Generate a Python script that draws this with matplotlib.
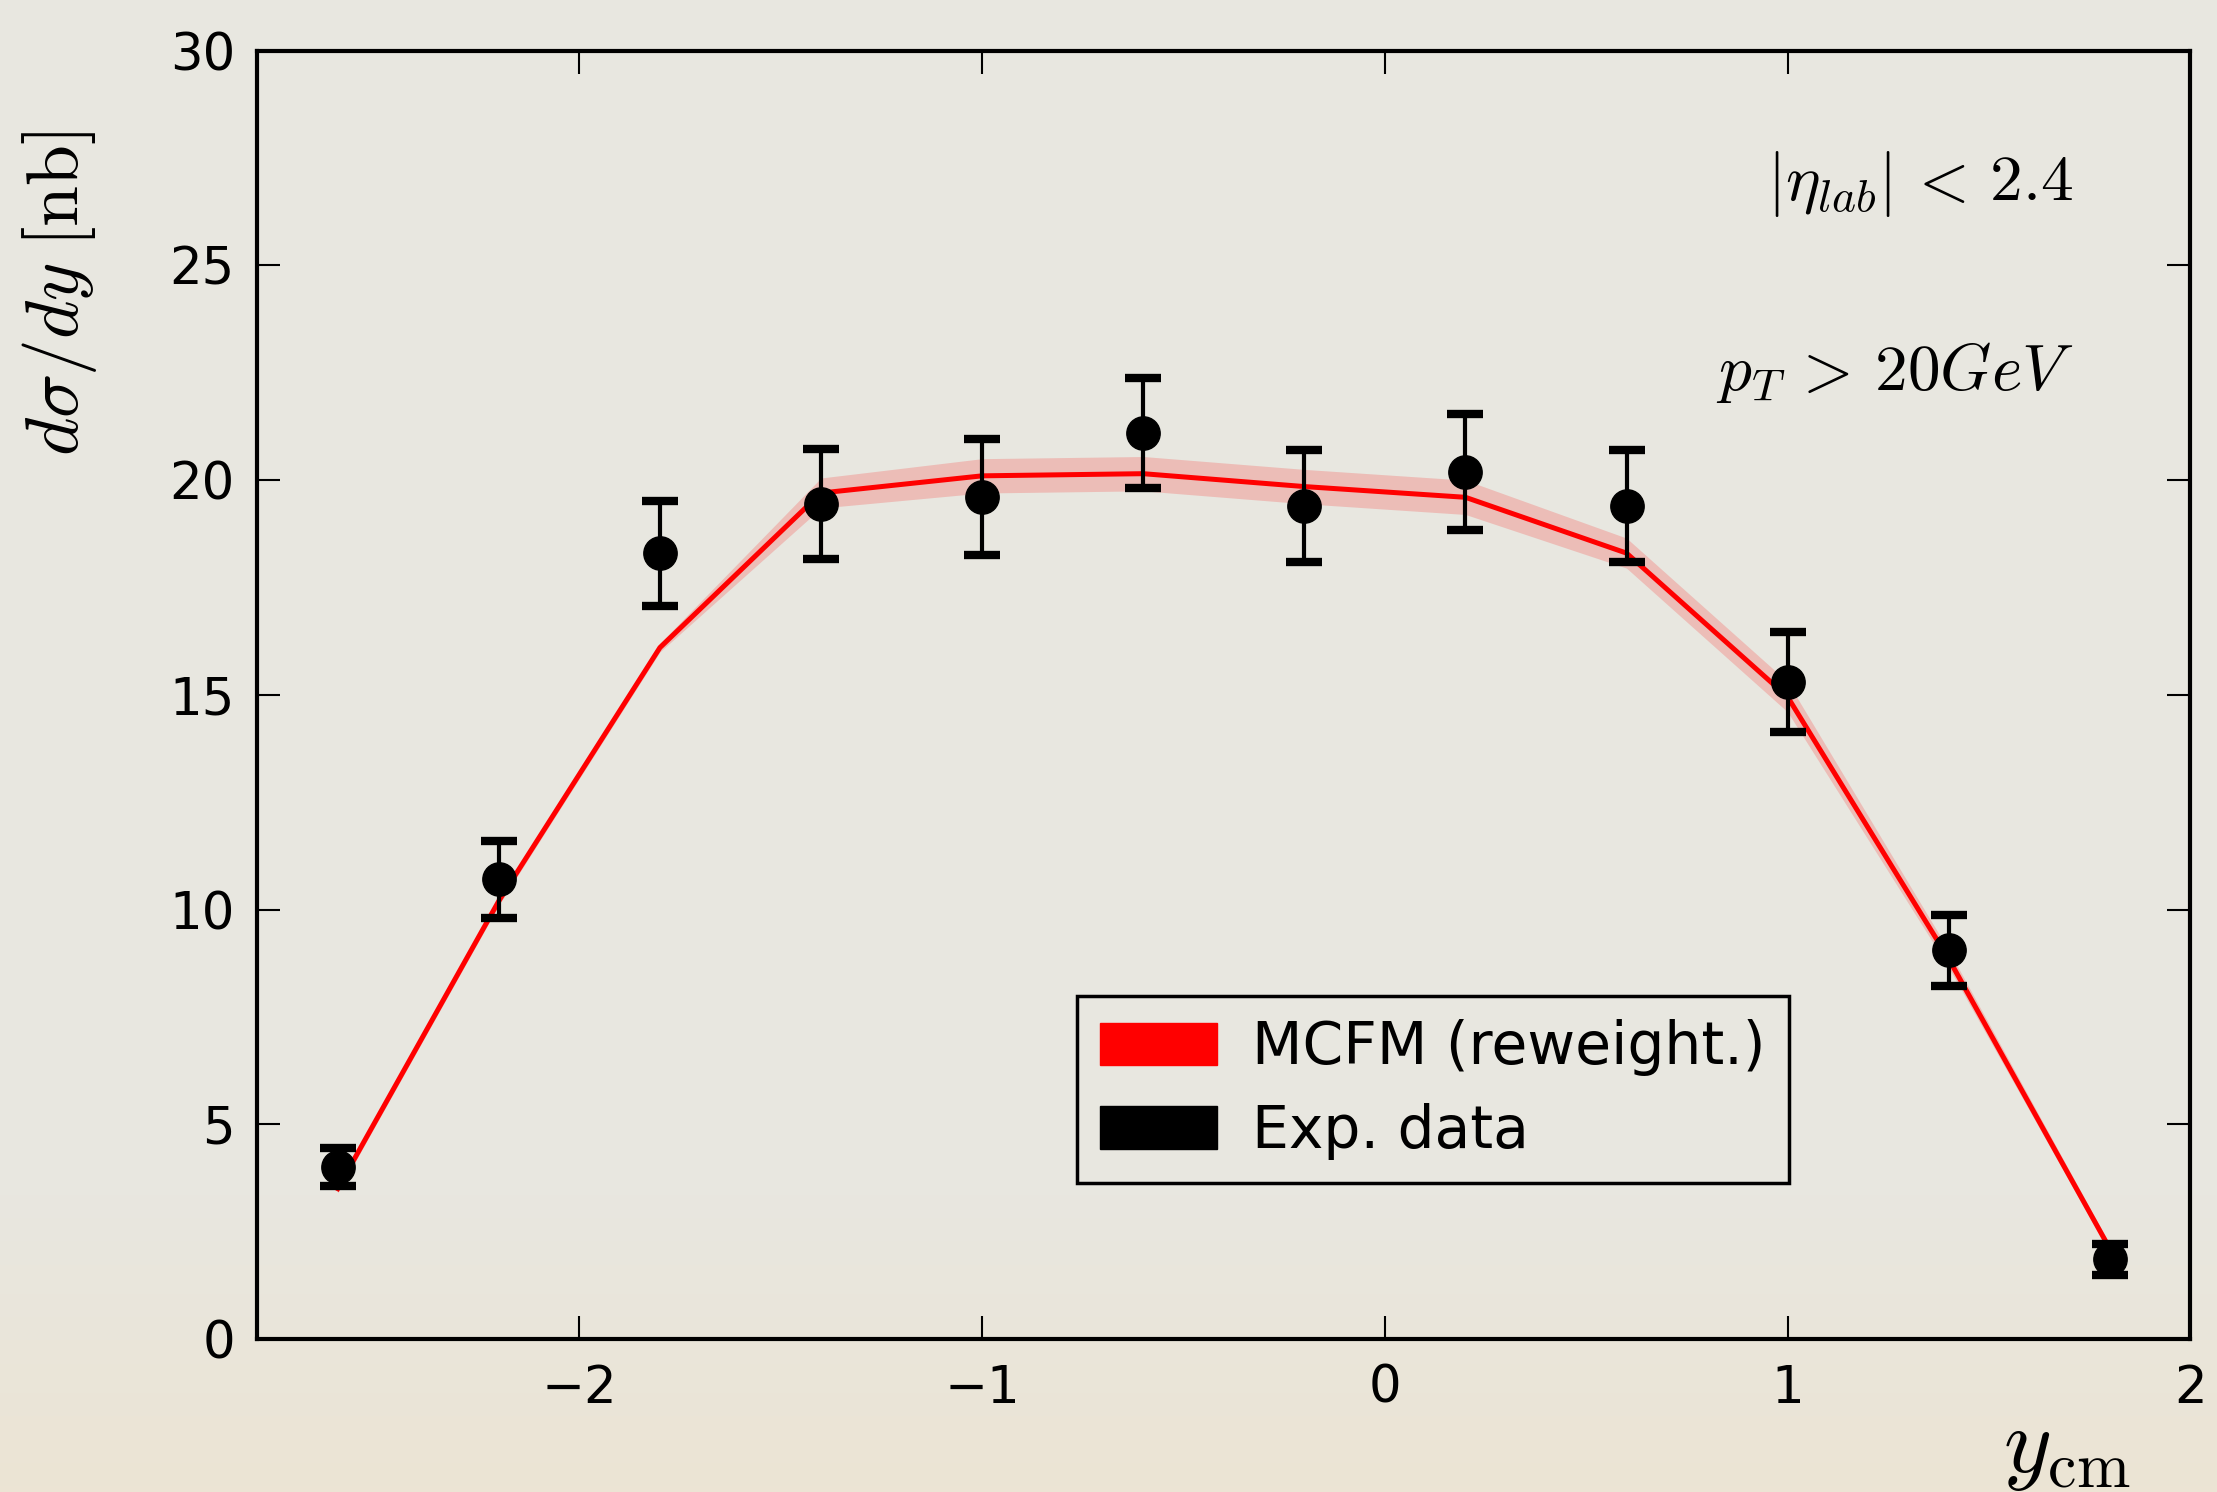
import numpy as np
import matplotlib
matplotlib.use("Agg")
import matplotlib.pyplot as plt
import matplotlib.patches as mpatches

plt.rcParams['mathtext.fontset'] = 'cm'
plt.rcParams['font.family'] = 'DejaVu Sans'

# rapidity bins (centre of mass frame)
y_cm = [-2.6, -2.2, -1.8, -1.4, -1.0, -0.6, -0.2, 0.2, 0.6, 1.0, 1.4, 1.8]

# measured dsigma/dy [nb] with errors
data_val = [4.0, 10.7, 18.3, 19.45, 19.6, 21.1, 19.4, 20.2, 19.4, 15.3, 9.05, 1.85]
data_err = [0.45, 0.9, 1.22, 1.28, 1.35, 1.28, 1.3, 1.35, 1.3, 1.16, 0.82, 0.35]

# MCFM prediction after reweighting, central value and spread of replicas
mcfm_mid = [3.5, 10.2, 16.1, 19.7, 20.1, 20.15, 19.85, 19.6, 18.3, 14.95, 8.85, 2.1]
mcfm_lo = [3.4, 10.1, 16.0, 19.35, 19.7, 19.75, 19.45, 19.2, 17.95, 14.6, 8.65, 2.0]
mcfm_hi = [3.6, 10.3, 16.2, 20.05, 20.5, 20.55, 20.25, 20.0, 18.65, 15.3, 9.05, 2.2]

eta_text = r'$|\eta_{lab}|\,<\,2.4$'
pt_text = r'$p_T\,>\,20 GeV$'

bg = '#e8e7e0'

fig = plt.figure(figsize=(22.17, 14.92), dpi=100, facecolor=bg)

# slight warm shading towards the bottom of the page
bgax = fig.add_axes([0, 0, 1, 1], zorder=-10)
grad = np.linspace(0, 1, 256)
grad = np.clip((grad - 0.8) / 0.2, 0, 1)[:, None]
top_c = np.array([232, 231, 224]) / 255.
bot_c = np.array([236, 228, 212]) / 255.
img = top_c[None, None, :] * (1 - grad[..., None]) + bot_c[None, None, :] * grad[..., None]
img = np.repeat(img, 4, axis=1)
bgax.imshow(img, aspect='auto', extent=[0, 1, 0, 1], origin='upper')
bgax.axis('off')

ax = fig.add_axes([0.116, 0.1026, 0.872, 0.8634])
ax.set_facecolor('none')

ax.fill_between(y_cm, mcfm_lo, mcfm_hi, color='#ff0000', alpha=0.18, lw=0, zorder=2)
ax.plot(y_cm, mcfm_mid, color='#ff0000', lw=3.6, zorder=3)

ax.errorbar(y_cm, data_val, yerr=data_err, fmt='o', color='black', ms=24,
            elinewidth=3, capsize=13, capthick=6, zorder=4)

ax.set_xlim(-2.8, 2.0)
ax.set_ylim(0, 30)
ax.set_xticks([-2, -1, 0, 1, 2])
ax.set_yticks([0, 5, 10, 15, 20, 25, 30])

ax.tick_params(direction='in', top=True, right=True, length=16.5, width=1.5,
               labelsize=37, pad=16, colors='black')
ax.tick_params(axis='x', pad=18)
for sp in ax.spines.values():
    sp.set_linewidth(3)

ax.set_ylabel(r'$d\sigma/dy\;[\mathrm{nb}]$', fontsize=53)
ax.yaxis.set_label_coords(-0.082, 0.812)
ax.set_xlabel(r'$y_\mathrm{cm}$', fontsize=66)
ax.xaxis.set_label_coords(0.936, -0.05)

ax.text(1.71, 26.9, eta_text, fontsize=47, ha='right', va='center')
ax.text(1.71, 22.5, pt_text, fontsize=47, ha='right', va='center')

handles = [mpatches.Patch(color='#ff0000', label='MCFM (reweight.)'),
           mpatches.Patch(color='black', label='Exp. data')]
leg = ax.legend(handles=handles, loc='lower left', bbox_to_anchor=(0.424, 0.121),
                borderaxespad=0, fontsize=42, fancybox=False, framealpha=1,
                handlelength=2.0, handleheight=0.75, handletextpad=0.6,
                labelspacing=0.45, borderpad=0.4)
leg.get_frame().set_edgecolor('black')
leg.get_frame().set_linewidth(2.5)
leg.get_frame().set_facecolor(bg)

fig.savefig('out.png', dpi=100, facecolor=fig.get_facecolor())
